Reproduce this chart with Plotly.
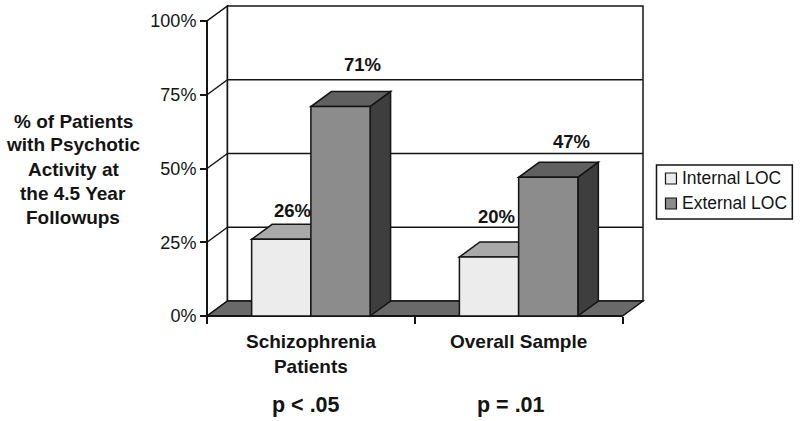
import plotly.graph_objects as go

categories = ['Schizophrenia<br>Patients', 'Overall Sample']
p_labels = ['p < .05', 'p = .01']
internal_loc = [26, 20]
external_loc = [71, 47]
y_ticks = [0, 25, 50, 75, 100]
y_title_lines = ['% of Patients', 'with Psychotic', 'Activity at', 'the 4.5 Year', 'Followups']

INK = '#141414'
INTERNAL = {'front': '#ececec', 'top': '#a9a9a9', 'side': '#8a8a8a'}
EXTERNAL = {'front': '#8c8c8c', 'top': '#606060', 'side': '#3e3e3e'}
FLOOR = '#696969'

# pixel layout of the front plane
W, H = 800, 421
X0_PX, X1_PX = 207, 623
Y0_PX, Y100_PX = 316, 21
DEPTH_X_PX, DEPTH_Y_PX = 20.5, 15
PAD = 3  # keeps edge lines out of the clip

px_per_x = (X1_PX - X0_PX) / len(categories)
px_per_y = (Y0_PX - Y100_PX) / 100
dx = DEPTH_X_PX / px_per_x
dy = DEPTH_Y_PX / px_per_y
n = len(categories)
bar_w = 59.3 / px_per_x

left = X0_PX - PAD
right = X1_PX + DEPTH_X_PX + PAD
top = Y100_PX - DEPTH_Y_PX - PAD
bottom = Y0_PX + PAD


def poly(points, fill, width=1.5):
    path = 'M' + 'L'.join(f'{x},{y}' for x, y in points) + 'Z'
    return dict(type='path', path=path, fillcolor=fill, xref='x', yref='y',
                line=dict(color=INK, width=width), layer='below')


def seg(x0, y0, x1, y1, width=1.5):
    return dict(type='line', x0=x0, y0=y0, x1=x1, y1=y1, xref='x', yref='y',
                line=dict(color=INK, width=width), layer='below')


def px_x(px):
    return (px - left) / (right - left)


def px_y(px):
    return (bottom - px) / (bottom - top)


shapes = []

# walls
shapes.append(poly([(0, 0), (dx, dy), (dx, 100 + dy), (0, 100)], 'white'))
shapes.append(poly([(dx, dy), (n + dx, dy), (n + dx, 100 + dy), (dx, 100 + dy)], 'white'))
for v in y_ticks[1:-1]:
    shapes.append(seg(0, v, dx, v + dy))
    shapes.append(seg(dx, v + dy, n + dx, v + dy))

# floor
shapes.append(poly([(0, 0), (n, 0), (n + dx, dy), (dx, dy)], FLOOR))

# top and side faces behind the go.Bar fronts
for i in range(n):
    c = i + 0.5
    xs = [c - bar_w, c, c + bar_w]
    a, b = internal_loc[i], external_loc[i]
    shapes.append(poly([(xs[0], a), (xs[1], a), (xs[1] + dx, a + dy), (xs[0] + dx, a + dy)], INTERNAL['top']))
    shapes.append(poly([(xs[1], b), (xs[2], b), (xs[2] + dx, b + dy), (xs[1] + dx, b + dy)], EXTERNAL['top']))
    shapes.append(poly([(xs[2], 0), (xs[2] + dx, dy), (xs[2] + dx, b + dy), (xs[2], b)], EXTERNAL['side']))

# front axis lines
shapes.append(seg(0, 0, 0, 100, 2))
shapes.append(seg(0, 0, n, 0, 2))

# legend box
LEG_L, LEG_R, LEG_T, LEG_B = 657, 793, 165, 219
shapes.append(dict(type='rect', xref='paper', yref='paper', x0=px_x(LEG_L), x1=px_x(LEG_R),
                   y0=px_y(LEG_B), y1=px_y(LEG_T), line=dict(color=INK, width=1.5), fillcolor='white'))
annotations = []
for name, colors, y_px in [('Internal LOC', INTERNAL, 178.5), ('External LOC', EXTERNAL, 203.5)]:
    shapes.append(dict(type='rect', xref='paper', yref='paper', x0=px_x(666), x1=px_x(677),
                       y0=px_y(y_px + 5.5), y1=px_y(y_px - 5.5), line=dict(color=INK, width=1.2),
                       fillcolor=colors['front']))
    annotations.append(dict(xref='paper', yref='paper', x=px_x(681), y=px_y(y_px - 0.5), text=name, showarrow=False,
                            xanchor='left', yanchor='middle', font=dict(size=17.5, color=INK)))

# value labels, each sits where the original put it
label_shift = [[(11.7, 29), (21.7, 42)], [(7.7, 41), (23.7, 36)]]
for i in range(n):
    c = i + 0.5
    for j, (val, xpos) in enumerate([(internal_loc[i], c - bar_w / 2), (external_loc[i], c + bar_w / 2)]):
        sx, sy = label_shift[i][j]
        annotations.append(dict(x=xpos, y=val, xref='x', yref='y', text=f'<b>{val}%</b>', showarrow=False,
                                xshift=sx, yshift=sy, xanchor='center', yanchor='middle',
                                font=dict(size=18.5, color=INK)))

# left title, one line at a time for the wider leading
for line, y_px in zip(y_title_lines, [121, 145, 169, 193, 217]):
    annotations.append(dict(xref='paper', yref='paper', x=px_x(73), y=px_y(y_px), text=f'<b>{line}</b>',
                            showarrow=False, xanchor='center', yanchor='middle', font=dict(size=19, color=INK)))

for label, x_px in zip(p_labels, [306, 511.6]):
    annotations.append(dict(xref='paper', yref='paper', x=px_x(x_px), y=px_y(405), text=f'<b>{label}</b>',
                            showarrow=False, xanchor='center', yanchor='middle', font=dict(size=21.5, color=INK)))

x_pos = [i + 0.5 for i in range(n)]
fig = go.Figure()
fig.add_trace(go.Bar(x=x_pos, y=internal_loc, name='Internal LOC', marker=dict(color=INTERNAL['front'], line=dict(color=INK, width=1.5))))
fig.add_trace(go.Bar(x=x_pos, y=external_loc, name='External LOC', marker=dict(color=EXTERNAL['front'], line=dict(color=INK, width=1.5))))

fig.update_layout(
    width=W,
    height=H,
    margin=dict(l=left, r=W - right, t=top, b=H - bottom, pad=0, autoexpand=False),
    barmode='group',
    bargap=1 - 2 * bar_w,
    bargroupgap=0,
    showlegend=False,
    plot_bgcolor='white',
    paper_bgcolor='white',
    font=dict(family='Liberation Sans, Arial, sans-serif', color=INK),
    shapes=shapes,
    annotations=annotations,
    xaxis=dict(
        range=[-PAD / px_per_x, n + dx + PAD / px_per_x],
        anchor='free',
        position=px_y(Y0_PX),
        tickvals=x_pos,
        ticktext=[f'<b>{c}</b>' for c in categories],
        ticks='outside',
        ticklen=8,
        tickcolor='rgba(0,0,0,0)',
        tickfont=dict(size=19),
        showgrid=False,
        zeroline=False,
        minor=dict(tickvals=list(range(n + 1)), ticks='outside', ticklen=7, tickwidth=1.5, tickcolor=INK),
    ),
    yaxis=dict(
        range=[-PAD / px_per_y, 100 + dy + PAD / px_per_y],
        anchor='free',
        position=px_x(X0_PX),
        tickvals=y_ticks,
        ticktext=[f'{v}%' for v in y_ticks],
        ticks='outside',
        ticklen=7,
        tickwidth=1.5,
        tickcolor=INK,
        tickfont=dict(size=18),
        showgrid=False,
        zeroline=False,
    ),
)

fig.write_html("out.html", config={'displayModeBar': False}, post_script="document.body.style.margin='0';")
